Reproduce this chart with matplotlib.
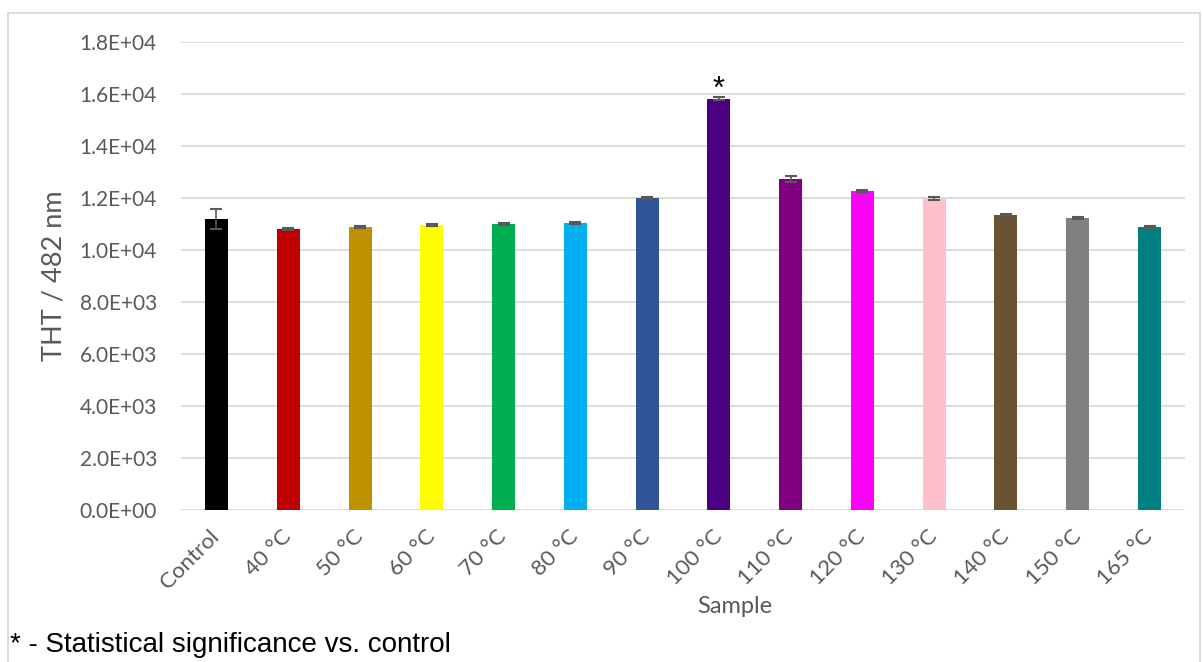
import matplotlib
matplotlib.use('Agg')
import matplotlib.pyplot as plt
from matplotlib.patches import Rectangle
import numpy as np

samples = ['Control', '40 °C', '50 °C', '60 °C', '70 °C', '80 °C', '90 °C',
           '100 °C', '110 °C', '120 °C', '130 °C', '140 °C', '150 °C', '165 °C']
tht = [11190, 10810, 10885, 10960, 11000, 11040, 12000,
       15810, 12730, 12270, 11970, 11350, 11230, 10885]
tht_err = [390, 40, 50, 30, 30, 40, 50, 60, 100, 50, 60, 30, 40, 40]
colors = ['#000000', '#c00000', '#bf9000', '#ffff00', '#00b050', '#00b0f0', '#2f5597',
          '#4b0082', '#800080', '#ff00ff', '#ffc0cb', '#6a5330', '#808080', '#008080']
signif = [7]

W, H = 1203, 662
fig = plt.figure(figsize=(W/100, H/100), dpi=100)
ax = fig.add_axes([180.6/W, 1 - 510/H, 1004.8/W, 468/H])

x = np.arange(len(samples))
ax.bar(x, tht, width=0.32, color=colors, zorder=3)
ax.errorbar(x, tht, yerr=tht_err, fmt='none', ecolor='#595959',
            elinewidth=1.2, capsize=4.5, capthick=1.5, zorder=4)
# significance mark
for i in signif:
    ax.text(x[i], tht[i] + tht_err[i] + 280, '*', ha='center', va='center',
            fontsize=22, family='Liberation Sans')

ax.set_xlim(-0.5, len(samples) - 0.5)
ax.set_ylim(0, 18000)
ax.set_yticks(np.arange(0, 18001, 2000))
ax.set_yticklabels(['%.1E' % v for v in np.arange(0, 18001, 2000)],
                   family='Lato', fontsize=15, color='#595959')
ax.set_xticks(x)
ax.set_xticklabels(samples, rotation=45, ha='right', va='center', rotation_mode='anchor',
                   family='Lato', fontsize=16, color='#595959')
ax.tick_params(axis='both', length=0)
ax.tick_params(axis='y', pad=17)
ax.tick_params(axis='x', pad=17)
ax.grid(axis='y', color='#d9d9d9', linewidth=1.3, zorder=0)
for s in ax.spines.values():
    s.set_visible(False)

ax.set_ylabel('THT / 482 nm', family='Lato', fontsize=19.5, color='#595959')
ax.yaxis.set_label_coords(-(180.6 - 66) / 1004.8, 0.5)
ax.set_xlabel('Sample', family='Lato', fontsize=17, color='#595959')
ax.xaxis.set_label_coords((735 - 180.6) / 1004.8, -(596 - 510) / 468)

fig.text(10 / W, 1 - 645 / H, '* - Statistical significance vs. control',
         family='Liberation Sans', fontsize=20, ha='left', va='center')

fig.patches.append(Rectangle((8 / W, -0.05), 1192 / W, 1.05 - 13 / H, transform=fig.transFigure,
                             fill=False, edgecolor='#d9d9d9', linewidth=1.3))

fig.savefig('out.png', dpi=100)
